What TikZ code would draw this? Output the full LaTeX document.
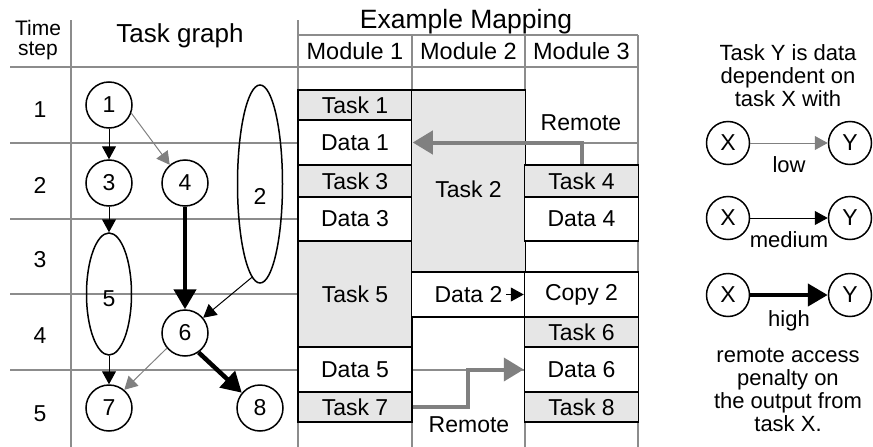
\documentclass[tikz,border=0pt]{standalone}
\usepackage{fontspec}
\setmainfont{Liberation Sans}
\usetikzlibrary{shapes.geometric,arrows.meta,positioning,calc}
\definecolor{gridgray}{HTML}{8C8C8C}
\definecolor{taskfill}{HTML}{E6E6E6}
\definecolor{lowgray}{HTML}{808080}
\newcommand{\lowered}[2]{\raisebox{-#1}[\height][\depth]{#2}}

\begin{document}
\begin{tikzpicture}[x=1pt, y=-1pt,
  font=\fontsize{23}{24}\selectfont,
  gridline/.style={gridgray, line width=1.5pt},
  cell/.style={rectangle, draw, line width=1.5pt, fill=#1, minimum width=114pt, inner sep=0pt},
  tnode/.style={circle, draw, line width=1.5pt, minimum size=46pt, inner sep=0pt},
  tlong/.style={ellipse, draw, line width=1.5pt, minimum width=45pt, inner sep=0pt},
  low/.style={-{Triangle[length=13pt, width=14pt]}, lowgray, line width=1pt},
  med/.style={-{Triangle[length=13pt, width=14pt]}, black, line width=1pt},
  high/.style={-{Triangle[length=20pt, width=22pt]}, black, line width=4.5pt},
  remote/.style={-{Triangle[length=20pt, width=23pt]}, lowgray, line width=4pt},
  head/.style={font=\fontsize{26}{27}\selectfont, anchor=base},
  legtext/.style={align=center, font=\fontsize{22}{23}\selectfont}
]
  \useasboundingbox (0,0) rectangle (873,447);

  % table lines
  \foreach \y in {67,143,219,294,370}
    \draw[gridline] (10,\y) -- (638,\y);
  \foreach \x in {71,298}
    \draw[gridline] (\x,20) -- (\x,447);
  \foreach \x in {412,525,638}
    \draw[gridline] (\x,35) -- (\x,447);
  \draw[gridline] (298,35) -- (638,35);

  % headers
  \node[align=center, font=\fontsize{21}{20}\selectfont, inner sep=1pt] (ts) at (38,40) {Time\\step};
  \node[head] (tg) at (180,42) {Task graph};
  \node[head, font=\fontsize{26.5}{27}\selectfont] (em) at (466,28) {Example Mapping};
  \node[font=\fontsize{23.5}{24}\selectfont] (m1) at (355,51) {Module 1};
  \node[font=\fontsize{23.5}{24}\selectfont] (m2) at (468.5,51) {Module 2};
  \node[font=\fontsize{23.5}{24}\selectfont] (m3) at (581.5,51) {Module 3};

  \foreach \n/\y in {1/110,2/185,3/260,4/336,5/414}
    \node (r\n) at (40,\y) {\n};

  % task graph
  \node[tnode] (n1) at (109,105) {1};
  \node[tnode] (n3) at (109,183) {3};
  \node[tnode] (n4) at (185,183) {4};
  \node[tlong, minimum height=198pt] (n2) at (260,184) {\lowered{12pt}{2}};
  \node[tlong, minimum height=122pt] (n5) at (109,294) {\lowered{5pt}{5}};
  \node[tnode] (n6) at (185,333) {6};
  \node[tnode] (n7) at (109,408) {7};
  \node[tnode] (n8) at (260,408) {8};

  \draw[med] (n1) -- (n3);
  \draw[low] (n1.-20) -- (n4.130);
  \draw[med] (n3) -- (n5);
  \draw[high] (n4) -- (n6);
  \draw[med] (n2.265) -- (n6.40);
  \draw[med] (n5) -- (n7);
  \draw[low] (n6.220) -- (n7.50);
  \draw[high] (n6.-55) -- (n8.140);

  % mapping, module 1
  \node[cell=taskfill, minimum height=30pt] (t1) at (355,105) {Task 1};
  \node[cell=white, minimum height=45pt] (d1) at (355,142.5) {Data 1};
  \node[cell=taskfill, minimum height=32pt] (t3) at (355,181) {Task 3};
  \node[cell=white, minimum height=44pt] (d3) at (355,219) {Data 3};
  \node[cell=taskfill, minimum height=106pt] (t5) at (355,294) {Task 5};
  \node[cell=white, minimum height=45pt] (d5) at (355,369.5) {Data 5};
  \node[cell=taskfill, minimum height=30pt] (t7) at (355,407) {Task 7};
  % module 2
  \node[cell=taskfill, minimum height=182pt] (t2) at (468.5,181) {\lowered{8pt}{Task 2}};
  \node[cell=white, minimum height=45pt] (d2) at (468.5,294.5) {};
  \node (d2lbl) at (d2) {Data 2};
  \node (rm2) at (469,425) {Remote};
  % module 3
  \node (rm3) at (581,123) {Remote};
  \node[cell=taskfill, minimum height=32pt] (t4) at (581.5,181) {Task 4};
  \node[cell=white, minimum height=44pt] (d4) at (581.5,219) {Data 4};
  \node[cell=white, minimum height=45pt] (c2) at (581.5,294.5) {Copy 2};
  \node[cell=taskfill, minimum height=30pt] (t6) at (581.5,332) {Task 6};
  \node[cell=white, minimum height=45pt] (d6) at (581.5,369.5) {Data 6};
  \node[cell=taskfill, minimum height=30pt] (t8) at (581.5,407) {Task 8};

  \draw[med] (d2lbl.east) -- (c2.west);
  \draw[remote] (t4.north) |- (d1.east);
  \draw[remote] (t7.east) -| ($(t7.east)!0.5!(d6.west)$) |- (d6.west);

  % legend
  \node[legtext] (lgtop) at (788,76) {Task Y is data\\dependent on\\task X with};
  \node[tnode, minimum size=43pt] (x1) at (728,143) {X};
  \node[tnode, minimum size=43pt] (y1) at (850,143) {Y};
  \node[tnode, minimum size=43pt] (x2) at (728,218) {X};
  \node[tnode, minimum size=43pt] (y2) at (850,218) {Y};
  \node[tnode, minimum size=43pt] (x3) at (728,295) {X};
  \node[tnode, minimum size=43pt] (y3) at (850,295) {Y};
  \draw[low] (x1) -- node[below=10pt, black, legtext] (lowl) {low} (y1);
  \draw[med] (x2) -- node[below=10pt, legtext] (medl) {medium} (y2);
  \draw[high] (x3) -- node[below=10pt, legtext] (highl) {high} (y3);
  \node[legtext] (lgbot) at (788,390) {remote access\\penalty on\\the output from\\task X.};
\end{tikzpicture}
\end{document}
